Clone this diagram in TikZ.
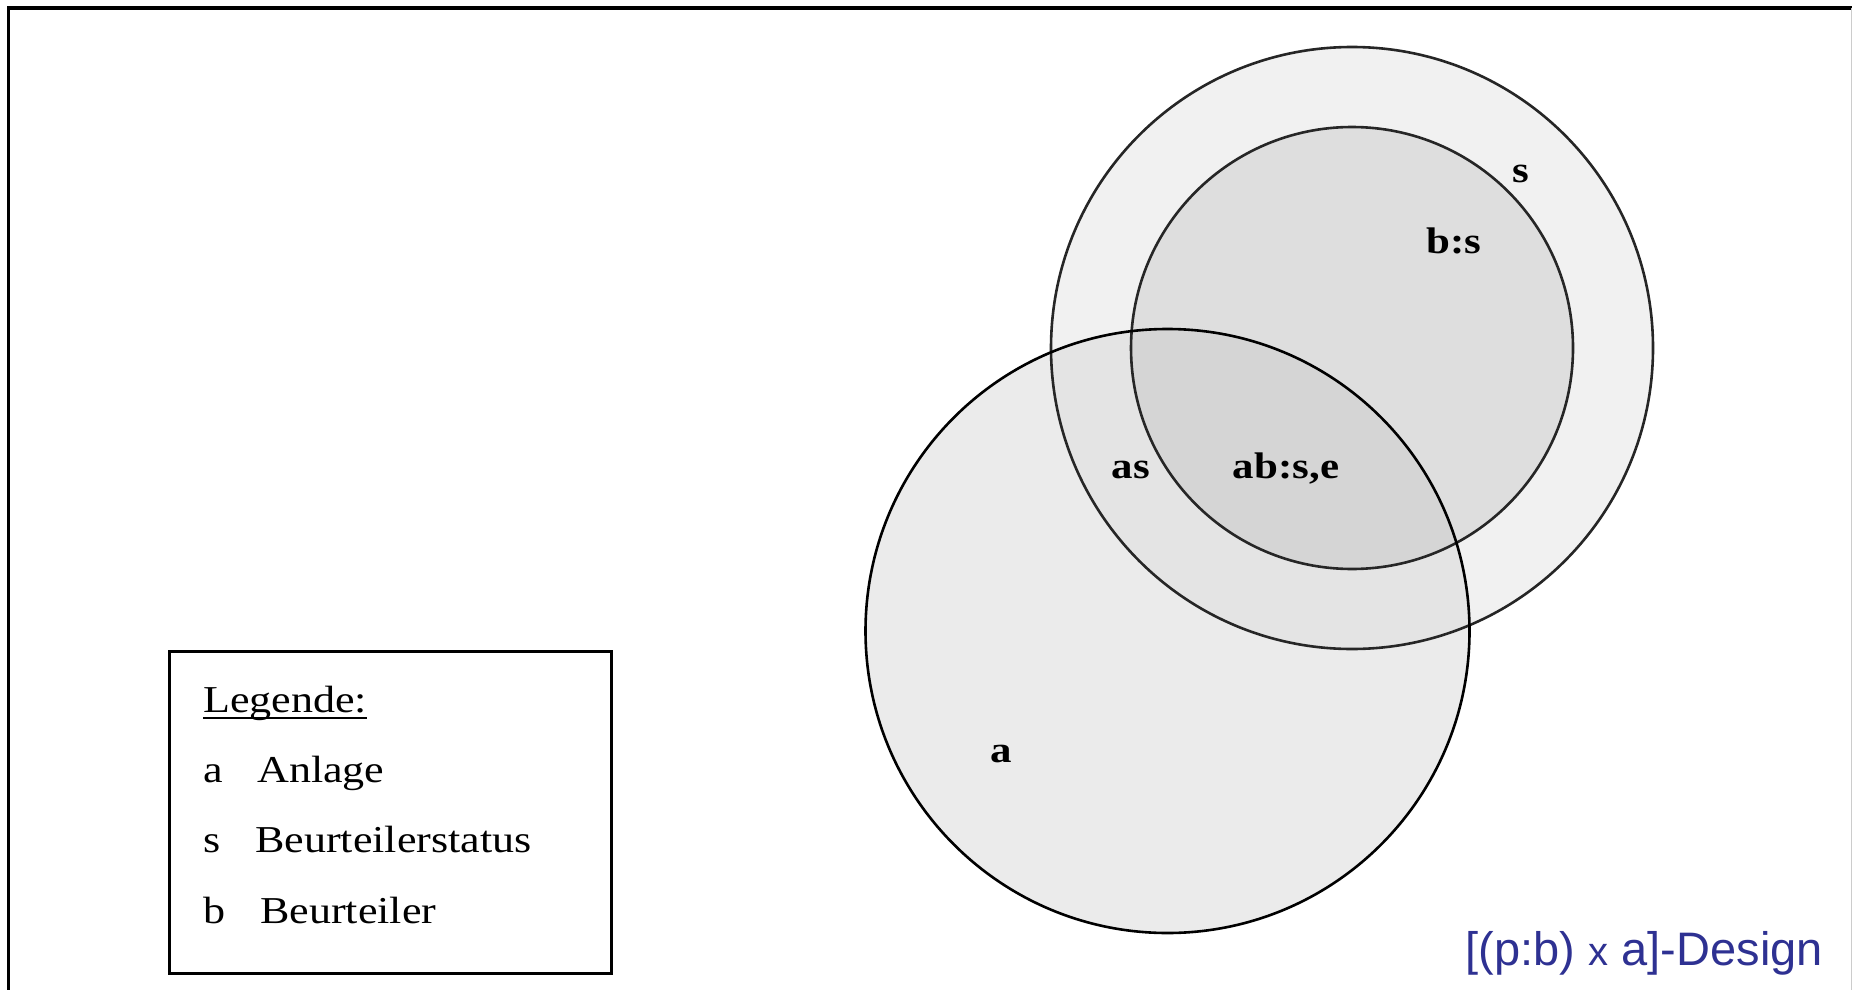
\documentclass[tikz,border=0pt]{standalone}
\usepackage{fontspec}
\setmainfont{Liberation Serif}
\newfontfamily\designfont{Liberation Sans}
\definecolor{ringgray}{HTML}{F1F1F1}
\definecolor{bgray}{HTML}{DEDEDE}
\definecolor{agray}{HTML}{EBEBEB}
\definecolor{asgray}{HTML}{E4E4E4}
\definecolor{abgray}{HTML}{D5D5D5}
\definecolor{designblue}{RGB}{46,49,146}
\tikzset{
  circline/.style={draw=black, line width=2.6pt},
  lbl/.style={font=\fontsize{37}{40}\selectfont\bfseries, inner sep=0pt, anchor=base},
  legtext/.style={font=\fontsize{38}{40}\selectfont, inner sep=0pt, anchor=base west},
}
\newcommand{\wid}[1]{\scalebox{1.16}[1]{#1}}
\begin{document}
\begin{tikzpicture}[x=1pt,y=-1pt]
\useasboundingbox (0,0) rectangle (1852,990);
% frame
\draw[line width=3.5pt, line cap=rect] (8.5,990) -- (8.5,8) -- (1852,8);
\draw[line width=1pt, gray!40] (1851,8) -- (1851,990);
% centers
\coordinate (cs) at (1352,348);
\coordinate (ca) at (1167.5,631);
% fills
\fill[ringgray] (cs) circle (301);
\fill[bgray] (cs) circle (221);
\fill[agray] (ca) circle (302);
\begin{scope}
  \clip (ca) circle (302);
  \fill[asgray] (cs) circle (301);
  \fill[abgray] (cs) circle (221);
\end{scope}
% outlines
\draw[circline, draw=black!85] (cs) circle (301);
\draw[circline, draw=black!85] (cs) circle (221);
\draw[circline] (ca) circle (302);
% labels
\node[lbl] (ls) at (1521,182) {\wid{s}};
\node[lbl] (lbs) at (1454,253) {\wid{b:s}};
\node[lbl] (las) at (1131,478) {\wid{as}};
\node[lbl] (labse) at (1286,478) {\wid{ab:s,e}};
\node[lbl] (la) at (1001,762) {\wid{a}};
% legend
\node[draw=black, line width=3pt, minimum width=442pt, minimum height=322pt, anchor=north west, inner sep=0pt] (legend) at (168,650) {};
\node[legtext] (lhead) at (203,712) {\wid{Legende:}};
\draw[line width=1.6pt] ([yshift=-6pt]lhead.base west) -- ([yshift=-6pt]lhead.base east);
\node[legtext] (la1) at (203,782) {\wid{a}};
\node[legtext] (la2) at (257,782) {\wid{Anlage}};
\node[legtext] (ls1) at (203,852) {\wid{s}};
\node[legtext] (ls2) at (255,852) {\wid{Beurteilerstatus}};
\node[legtext] (lb1) at (203,923) {\wid{b}};
\node[legtext] (lb2) at (260,923) {\wid{Beurteiler}};
% design label
\node[inner sep=0pt, anchor=base east, text=designblue, font=\designfont\fontsize{47}{50}\selectfont] (design) at (1823,965) {[(p:b) {\fontsize{40}{40}\selectfont x} a]-Design};
\end{tikzpicture}
\end{document}
